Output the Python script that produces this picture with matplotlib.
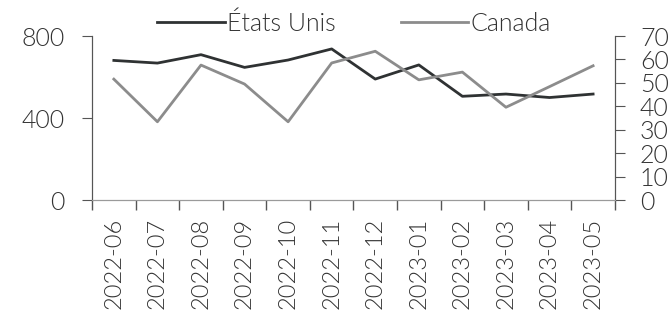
import numpy as np
import matplotlib
matplotlib.use('Agg')
import matplotlib.pyplot as plt

plt.rcParams['font.family'] = ['Lato', 'DejaVu Sans']
plt.rcParams['font.weight'] = 300

months = ['2022-06', '2022-07', '2022-08', '2022-09', '2022-10', '2022-11',
          '2022-12', '2023-01', '2023-02', '2023-03', '2023-04', '2023-05']
etats_unis = [681, 668, 709, 647, 683, 737, 590, 659, 506, 517, 500, 517]
canada = [51.6, 33.4, 57.6, 49.5, 33.4, 58.5, 63.5, 51.3, 54.6, 39.6, 48.4, 57.3]

text_col = '#333333'
fs = 18

fig = plt.figure(figsize=(6.72, 3.16), dpi=100)
ax = fig.add_axes([0.137, 0.367, 0.778, 0.519])
ax2 = ax.twinx()

x = np.arange(len(months))
l1, = ax.plot(x, etats_unis, color='#2f3233', lw=2.0, label='États Unis')
l2, = ax2.plot(x, canada, color='#8c8c8c', lw=2.0, label='Canada')

ax.set_xlim(-0.5, len(months) - 0.5)
ax.set_ylim(0, 800)
ax.set_yticks([0, 400, 800])
ax2.set_ylim(0, 70)
ax2.set_yticks(np.arange(0, 71, 10))

# category labels centred, tick marks at the boundaries
ax.set_xticks(x)
ax.set_xticklabels(months, rotation=90, fontsize=17, color=text_col)
ax.set_xticks(np.arange(-0.5, len(months)), minor=True)
ax.tick_params(axis='x', which='major', length=0, pad=13)
ax.tick_params(axis='x', which='minor', length=7, color='#555555', width=1)

ax.tick_params(axis='y', length=7, color='#555555', labelsize=fs, labelcolor=text_col, pad=13)
ax2.tick_params(axis='y', length=7, color='#555555', labelsize=fs, labelcolor=text_col, pad=11)

for a in (ax, ax2):
    a.spines['top'].set_visible(False)
    a.spines['left'].set_color('#555555')
    a.spines['right'].set_color('#555555')
    a.spines['bottom'].set_color('#9a9a9a')

fig.legend([l1, l2], ['États Unis', 'Canada'], loc='center', bbox_to_anchor=(0.527, 0.925),
           ncol=2, frameon=False, fontsize=fs, handlelength=2.7, handletextpad=0.1,
           columnspacing=2.6, labelcolor=text_col)

fig.savefig('out.png', dpi=100)
